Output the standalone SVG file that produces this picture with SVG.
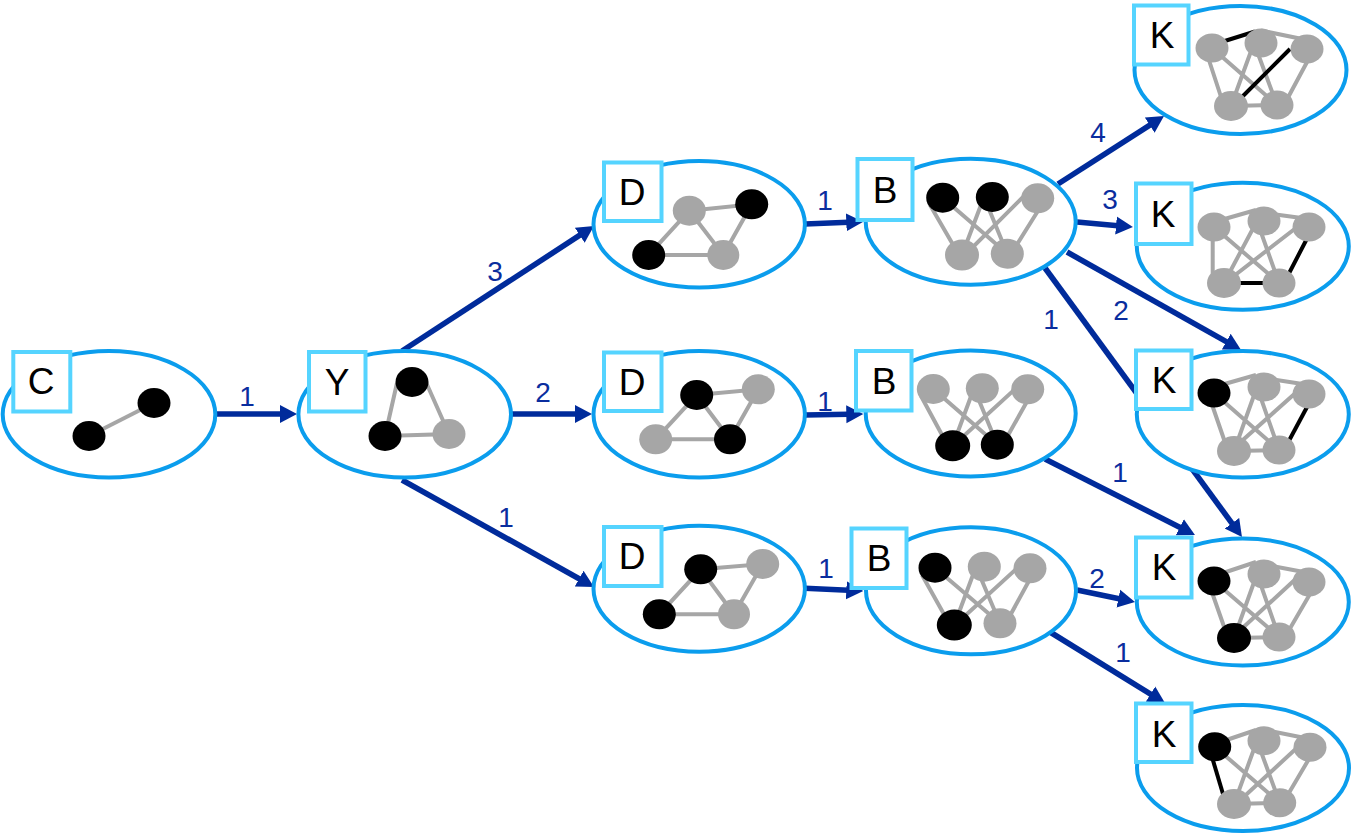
<svg xmlns="http://www.w3.org/2000/svg" width="1351" height="834" viewBox="0 0 1351 834">
<style>
text{font-family:"Liberation Sans",Arial,sans-serif}
.shell{fill:#fff;stroke:#0b9ded;stroke-width:4}
.tag{fill:#fff;stroke:#55d4ff;stroke-width:4}
.tagt{font-size:37px;fill:#000;text-anchor:middle}
.weight{font-size:28px;fill:#0a2d9e;text-anchor:middle}
.e{stroke:#a6a6a6;stroke-width:4;fill:none}
.b{stroke:#000;stroke-width:4;fill:none}
.g{fill:#a6a6a6}
.k{fill:#000}
.c{stroke:#002b9b;stroke-width:5.6;fill:none;marker-end:url(#head)}
</style>
<defs>
<marker id="head" markerUnits="userSpaceOnUse" markerWidth="18" markerHeight="20" refX="2" refY="10" orient="auto">
<path d="M0 1L17 10L0 19Z" fill="#002b9b"/>
</marker>
</defs>
<g id="connectors">
<line class="c" x1="216" y1="414" x2="282" y2="414"/>
<line class="c" x1="511" y1="414" x2="577" y2="414"/>
<line class="c" x1="402" y1="351" x2="581.4" y2="234.2"/>
<line class="c" x1="402" y1="480" x2="580.9" y2="579.7"/>
<line class="c" x1="805" y1="224" x2="848.300" y2="222.300"/>
<line class="c" x1="805" y1="415" x2="848.300" y2="414.300"/>
<line class="c" x1="805" y1="588.300" x2="848.300" y2="590.300"/>
<line class="c" x1="1058" y1="184" x2="1151.4" y2="124.1"/>
<line class="c" x1="1077" y1="222" x2="1118" y2="225.7"/>
<line class="c" x1="1067" y1="252" x2="1228" y2="342.6"/>
<line class="c" x1="1045" y1="268" x2="1233.1" y2="524.9"/>
<line class="c" x1="1045" y1="459" x2="1181.6" y2="528.2"/>
<line class="c" x1="1077" y1="590" x2="1120.3" y2="599"/>
<line class="c" x1="1050" y1="632" x2="1152.2" y2="695.1"/>
</g>
<g id="weights">
<text class="weight" x="247" y="406">1</text>
<text class="weight" x="543" y="402">2</text>
<text class="weight" x="495" y="281">3</text>
<text class="weight" x="506" y="527">1</text>
<text class="weight" x="825" y="210">1</text>
<text class="weight" x="825" y="410.500">1</text>
<text class="weight" x="826" y="578">1</text>
<text class="weight" x="1098" y="141.500">4</text>
<text class="weight" x="1110" y="209">3</text>
<text class="weight" x="1121" y="320">2</text>
<text class="weight" x="1051" y="329">1</text>
<text class="weight" x="1120" y="482">1</text>
<text class="weight" x="1097" y="588">2</text>
<text class="weight" x="1123" y="662">1</text>
</g>
<g id="node-c">
<ellipse class="shell" cx="109" cy="414.300" rx="106.300" ry="63.200"/>
<rect class="tag" x="13.300" y="352" width="57" height="59.500"/>
<text class="tagt" x="41" y="394">C</text>
<line class="e" x1="89" y1="436" x2="154" y2="403"/>
<ellipse class="k" cx="89" cy="436" rx="16.500" ry="15"/><ellipse class="k" cx="154" cy="403" rx="16.500" ry="15"/>
</g>
<g id="node-y">
<ellipse class="shell" cx="404.700" cy="414.300" rx="106.300" ry="63.200"/>
<rect class="tag" x="309" y="352" width="56.500" height="59.500"/>
<text class="tagt" x="337" y="395">Y</text>
<path class="e" d="M397 383L385 436L449 434L425 380"/>
<ellipse class="k" cx="412" cy="382" rx="16.500" ry="15"/><ellipse class="k" cx="385" cy="436" rx="16.500" ry="15"/><ellipse class="g" cx="449" cy="434" rx="16.500" ry="15"/>
</g>
<g id="node-d1">
<ellipse class="shell" cx="699.200" cy="224.300" rx="105.700" ry="63.200"/>
<rect class="tag" x="604" y="162.500" width="57.500" height="58.500"/>
<text class="tagt" x="632" y="205">D</text>
<path class="e" d="M689.300 210.700L751.700 204.300L723.300 255L648.700 255ZM689.300 210.700L723.300 255"/>
<ellipse class="g" cx="689.300" cy="210.700" rx="16.500" ry="15"/><ellipse class="k" cx="751.700" cy="204.300" rx="16.500" ry="15"/><ellipse class="k" cx="648.700" cy="255" rx="16.500" ry="15"/><ellipse class="g" cx="723.300" cy="255" rx="16" ry="15"/>
</g>
<g id="node-d2">
<ellipse class="shell" cx="699.200" cy="414.300" rx="105.700" ry="63.200"/>
<rect class="tag" x="604" y="352.500" width="57.500" height="58.500"/>
<text class="tagt" x="632" y="395">D</text>
<path class="e" d="M696.700 395L758.300 389.300L730 439.300L655.700 439.300ZM696.700 395L730 439.300"/>
<ellipse class="k" cx="696.700" cy="395" rx="16.500" ry="15"/><ellipse class="g" cx="758.300" cy="389.300" rx="16.500" ry="15"/><ellipse class="g" cx="655.700" cy="439.300" rx="16.500" ry="15"/><ellipse class="k" cx="730" cy="439.300" rx="16" ry="15"/>
</g>
<g id="node-d3">
<ellipse class="shell" cx="699.200" cy="588.700" rx="105.700" ry="63"/>
<rect class="tag" x="604" y="527" width="57.500" height="59"/>
<text class="tagt" x="632" y="569.300">D</text>
<path class="e" d="M700.700 569.300L762.700 564L734 614.300L659.300 614.300ZM700.700 569.300L734 614.300"/>
<ellipse class="k" cx="700.700" cy="569.300" rx="16.500" ry="15"/><ellipse class="g" cx="762.700" cy="564" rx="16.500" ry="15"/><ellipse class="k" cx="659.300" cy="614.300" rx="16.500" ry="15"/><ellipse class="g" cx="734" cy="614.300" rx="16" ry="15"/>
</g>
<g id="node-b1">
<ellipse class="shell" cx="970.700" cy="221.700" rx="105" ry="63"/>
<rect class="tag" x="857.500" y="159" width="55" height="61"/>
<text class="tagt" x="885" y="203.300">B</text>
<path class="e" d="M930 205L959 255M942.700 197.700L1007.300 253.700M984 197L962 255M984 197L1007.300 253.700M1030 190L965 255M1046 198L1011 254"/>
<ellipse class="k" cx="942.700" cy="197.700" rx="16.500" ry="15"/><ellipse class="k" cx="992.300" cy="197" rx="16.500" ry="15"/><ellipse class="g" cx="1037.700" cy="198.300" rx="16.500" ry="15"/><ellipse class="g" cx="962" cy="255" rx="17" ry="15.500"/><ellipse class="g" cx="1007.300" cy="253.700" rx="16.500" ry="15"/>
</g>
<g id="node-b2">
<ellipse class="shell" cx="970.700" cy="413.500" rx="105" ry="63"/>
<rect class="tag" x="856" y="351" width="55.500" height="59.500"/>
<text class="tagt" x="884" y="394.300">B</text>
<path class="e" d="M921 396L948 446M933.300 389L997.300 444.700M974 388.300L952.700 445.700M974 388.300L997.300 444.700M1025 380L955 444M1034 389L1002 446"/>
<ellipse class="g" cx="933.300" cy="389" rx="16.500" ry="15"/><ellipse class="g" cx="982.300" cy="388.300" rx="16.500" ry="15"/><ellipse class="g" cx="1027.700" cy="389.300" rx="16.500" ry="15"/><ellipse class="k" cx="952.700" cy="445.700" rx="17.500" ry="15.500"/><ellipse class="k" cx="997.300" cy="444.700" rx="16.500" ry="15"/>
</g>
<g id="node-b3">
<ellipse class="shell" cx="971" cy="590.800" rx="105" ry="63.500"/>
<rect class="tag" x="851.500" y="528.500" width="55" height="59.500"/>
<text class="tagt" x="879" y="571">B</text>
<path class="e" d="M922 575L950 625M935 567.700L1000 623.300M976 566.700L954.300 625M976 566.700L1000 623.300M1025 561L955 625M1036 568L1006 623"/>
<ellipse class="k" cx="935" cy="567.700" rx="16.500" ry="15"/><ellipse class="g" cx="984.300" cy="566.700" rx="16.500" ry="15"/><ellipse class="g" cx="1030" cy="568.300" rx="16.500" ry="15"/><ellipse class="k" cx="954.300" cy="625" rx="17.500" ry="15.500"/><ellipse class="g" cx="1000" cy="623.300" rx="16.500" ry="15"/>
</g>
<g id="node-k1">
<ellipse class="shell" cx="1240.500" cy="70" rx="106" ry="64"/>
<rect class="tag" x="1134" y="5.500" width="54.500" height="59"/>
<text class="tagt" x="1162" y="48">K</text>
<path class="e" d="M1261 30.500L1307 40M1205 48L1224 106M1212 48L1277 105M1254 43L1231 106M1254 43L1277 105M1314 49L1284 105M1231 106L1277 105"/>
<path class="b" d="M1212 45L1255 31.500M1290 49L1241 98"/>
<ellipse class="g" cx="1212" cy="48" rx="16.500" ry="14.500"/><ellipse class="g" cx="1261" cy="43" rx="16.500" ry="14.500"/><ellipse class="g" cx="1307" cy="49" rx="16.500" ry="14.500"/><ellipse class="g" cx="1231" cy="106" rx="17" ry="15"/><ellipse class="g" cx="1277" cy="105" rx="16.500" ry="14.500"/>
</g>
<g id="node-k2">
<ellipse class="shell" cx="1242.800" cy="246.300" rx="106" ry="63.500"/>
<rect class="tag" x="1136" y="183.500" width="55.500" height="60.500"/>
<text class="tagt" x="1163" y="227">K</text>
<path class="e" d="M1214 222L1256 210M1272 214L1309 219M1212.700 227L1212.700 283M1214 227L1279 283M1257 221L1224 283M1257 221L1279 283M1305 221L1230 279"/>
<path class="b" d="M1313 227L1284 283M1279 283L1224 283"/>
<ellipse class="g" cx="1214" cy="227" rx="16.500" ry="14.500"/><ellipse class="g" cx="1264" cy="221" rx="16.500" ry="14.500"/><ellipse class="g" cx="1309" cy="227" rx="16.500" ry="14.500"/><ellipse class="g" cx="1224" cy="283" rx="17" ry="15"/><ellipse class="g" cx="1279" cy="283" rx="16.500" ry="14.500"/>
</g>
<g id="node-k3">
<ellipse class="shell" cx="1242.800" cy="414.300" rx="106" ry="63.200"/>
<rect class="tag" x="1136" y="350.500" width="55.500" height="58.500"/>
<text class="tagt" x="1164" y="393">K</text>
<path class="e" d="M1214 387L1256 375M1270 379L1309 385M1208 393L1228 451M1214 393L1279 450M1257 387L1234 451M1257 387L1279 450M1300 389L1235 447M1234 451L1279 450"/>
<path class="b" d="M1314 394L1284 450"/>
<ellipse class="k" cx="1214" cy="393" rx="16.500" ry="14.500"/><ellipse class="g" cx="1264" cy="387" rx="16.500" ry="14.500"/><ellipse class="g" cx="1309" cy="394" rx="16.500" ry="14.500"/><ellipse class="g" cx="1234" cy="451" rx="17" ry="15"/><ellipse class="g" cx="1279" cy="450" rx="16.500" ry="14.500"/>
</g>
<g id="node-k4">
<ellipse class="shell" cx="1242.800" cy="602" rx="106" ry="63.500"/>
<rect class="tag" x="1136" y="537.500" width="55.500" height="60"/>
<text class="tagt" x="1164" y="580">K</text>
<path class="e" d="M1214 576L1256 562M1272 566L1309 573M1208 581L1228 638M1214 581L1279 637M1257 574L1234 638M1257 574L1279 637M1300 575L1235 635M1317 582L1285 637M1234 638L1279 637"/>
<ellipse class="k" cx="1214" cy="581" rx="16.500" ry="14.500"/><ellipse class="g" cx="1264" cy="574" rx="16.500" ry="14.500"/><ellipse class="g" cx="1309" cy="582" rx="16.500" ry="14.500"/><ellipse class="k" cx="1234" cy="638" rx="17" ry="15"/><ellipse class="g" cx="1279" cy="637" rx="16.500" ry="14.500"/>
</g>
<g id="node-k5">
<ellipse class="shell" cx="1243" cy="768" rx="106" ry="63"/>
<rect class="tag" x="1136" y="703.500" width="55.500" height="58.500"/>
<text class="tagt" x="1164" y="746.700">K</text>
<path class="e" d="M1214.700 744L1256 730M1270 731L1310 739M1214.700 746.700L1279.700 802.700M1257 740.700L1234 804M1257 740.700L1279.700 802.700M1300 745L1235 805M1316 747L1283 803M1234 804L1279.700 802.700"/>
<path class="b" d="M1209 747L1226 804"/>
<ellipse class="k" cx="1214.700" cy="746.700" rx="16.500" ry="14.500"/><ellipse class="g" cx="1264" cy="740.700" rx="16.500" ry="14.500"/><ellipse class="g" cx="1310" cy="747.300" rx="16.500" ry="14.500"/><ellipse class="g" cx="1234" cy="804" rx="17" ry="15"/><ellipse class="g" cx="1279.700" cy="802.700" rx="16.500" ry="14.500"/>
</g>
</svg>
